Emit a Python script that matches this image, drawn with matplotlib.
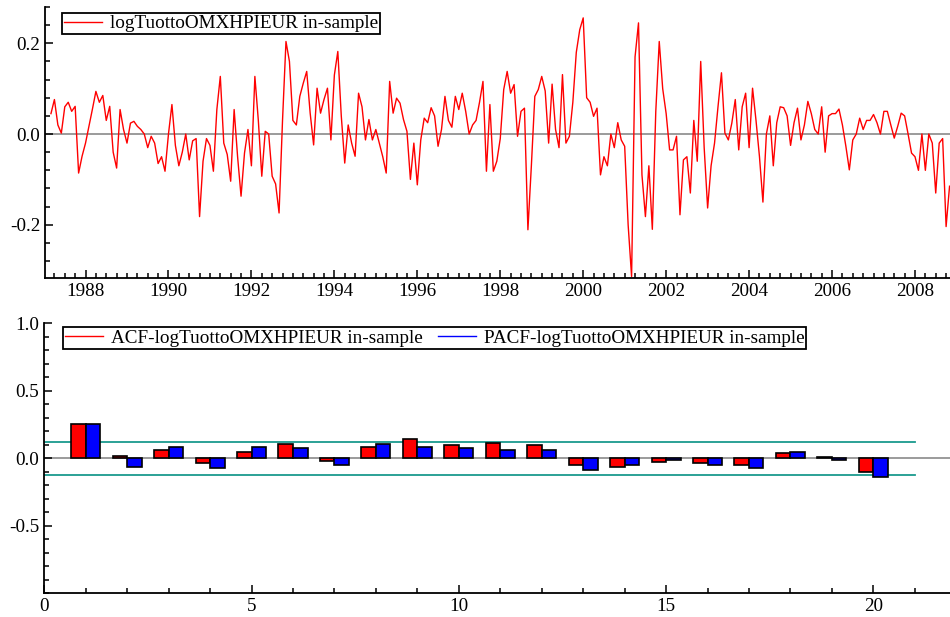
import numpy as np
import matplotlib
matplotlib.use("Agg")
import matplotlib.pyplot as plt
from matplotlib.lines import Line2D
from matplotlib.ticker import MultipleLocator

plt.rcParams['font.family'] = ['Liberation Serif', 'DejaVu Serif']

# monthly log returns, first observation March 1987
start_year, start_month = 1987, 3
returns = [
    0.045, 0.076, 0.02, 0.002, 0.06, 0.07, 0.05, 0.061, -0.086, -0.049,
    -0.02, 0.017, 0.055, 0.094, 0.07, 0.085, 0.03, 0.061, -0.04, -0.075,
    0.054, 0.01, -0.02, 0.024, 0.028, 0.017, 0.01, 0.0, -0.03, -0.005,
    -0.02, -0.065, -0.05, -0.082, 0.0, 0.065, -0.025, -0.07, -0.04, 0.0,
    -0.057, -0.015, -0.01, -0.182, -0.06, -0.01, -0.025, -0.082, 0.054, 0.127,
    -0.02, -0.045, -0.104, 0.054, -0.05, -0.137, -0.042, 0.01, -0.07, 0.127,
    0.03, -0.093, 0.006, 0.0, -0.093, -0.11, -0.174, 0.03, 0.204, 0.16,
    0.03, 0.02, 0.083, 0.112, 0.138, 0.046, -0.024, 0.101, 0.046, 0.076,
    0.101, -0.013, 0.13, 0.182, 0.04, -0.064, 0.02, -0.02, -0.049, 0.09,
    0.06, -0.013, 0.032, -0.013, 0.01, -0.02, -0.05, -0.086, 0.116, 0.046,
    0.079, 0.068, 0.032, 0.006, -0.1, -0.02, -0.112, -0.013, 0.035, 0.025,
    0.058, 0.04, -0.027, 0.01, 0.083, 0.03, 0.015, 0.083, 0.054, 0.09,
    0.05, 0.0, 0.02, 0.03, 0.07, 0.116, -0.082, 0.065, -0.082, -0.06,
    -0.01, 0.098, 0.138, 0.09, 0.109, -0.005, 0.05, 0.057, -0.211, -0.07,
    0.083, 0.098, 0.127, 0.095, -0.02, 0.11, 0.01, -0.03, 0.131, -0.02,
    -0.005, 0.07, 0.18, 0.23, 0.256, 0.08, 0.07, 0.039, 0.057, -0.09,
    -0.05, -0.07, 0.0, -0.03, 0.025, -0.013, -0.027, -0.2, -0.314, 0.17,
    0.245, -0.09, -0.182, -0.07, -0.21, 0.05, 0.204, 0.1, 0.045, -0.035,
    -0.035, -0.005, -0.178, -0.057, -0.05, -0.13, 0.03, -0.06, 0.16, -0.03,
    -0.163, -0.07, -0.02, 0.06, 0.135, 0.002, -0.013, 0.024, 0.076, -0.035,
    0.06, 0.09, -0.03, 0.101, 0.03, -0.05, -0.15, 0.0, 0.04, -0.07,
    0.025, 0.06, 0.058, 0.04, -0.025, 0.025, 0.057, -0.013, 0.02, 0.072,
    0.045, 0.01, 0.0, 0.06, -0.04, 0.04, 0.045, 0.045, 0.055, 0.02,
    -0.027, -0.079, -0.013, 0.0, 0.035, 0.01, 0.03, 0.03, 0.043, 0.025,
    0.0, 0.05, 0.05, 0.02, -0.009, 0.017, 0.046, 0.04, 0.0, -0.042,
    -0.05, -0.08, 0.0, -0.08, 0.0, -0.02, -0.13, -0.02, -0.01, -0.204,
    -0.115,
]

lags = [1, 2, 3, 4, 5, 6, 7, 8, 9, 10, 11, 12, 13, 14, 15, 16, 17, 18, 19, 20]
acf = [0.255, 0.015, 0.058, -0.036, 0.046, 0.109, -0.017, 0.085, 0.146, 0.097,
       0.112, 0.1, -0.049, -0.061, -0.024, -0.036, -0.049, 0.036, 0.012, -0.1]
pacf = [0.255, -0.063, 0.085, -0.075, 0.085, 0.073, -0.049, 0.109, 0.085, 0.075,
        0.061, 0.061, -0.087, -0.049, -0.012, -0.049, -0.075, 0.049, -0.012, -0.138]
conf_band = 0.122

series_label = 'logTuottoOMXHPIEUR in-sample'
acf_label = 'ACF-logTuottoOMXHPIEUR in-sample'
pacf_label = 'PACF-logTuottoOMXHPIEUR in-sample'

FS = 13.8

# decimal year of each observation
t = np.array([start_year + (start_month - 1 + i) / 12 for i in range(len(returns))])


def style_axes(ax):
    for s in ['top', 'right']:
        ax.spines[s].set_visible(False)
    for s in ['left', 'bottom']:
        ax.spines[s].set_linewidth(1.3)
    ax.tick_params(which='both', direction='in', labelsize=FS, width=1.1)
    ax.tick_params(which='major', length=6)
    ax.tick_params(which='minor', length=3.5)


fig = plt.figure(figsize=(9.5, 6.17), dpi=100)

# top panel: the series
ax1 = fig.add_axes([45/950, 1 - 278.3/617, 1 - 45/950, (278.3 - 7)/617])
ax1.axhline(0, color='#808080', lw=1.1, zorder=1)
ax1.plot(t, returns, color='red', lw=1.0, zorder=2)
ax1.set_xlim(1987.023, 2008.844)
ax1.set_ylim(-0.318, 0.28)
ax1.set_xticks(np.arange(1988, 2009, 2))
ax1.xaxis.set_minor_locator(MultipleLocator(0.25))
ax1.set_yticks([-0.2, 0.0, 0.2])
ax1.set_yticklabels(['-0.2', '0.0', '0.2'])
ax1.yaxis.set_minor_locator(MultipleLocator(0.04))
style_axes(ax1)
leg1 = ax1.legend([Line2D([], [], color='red', lw=1.0)], [series_label],
                  loc='upper left', bbox_to_anchor=(62/950, 1 - 13/617),
                  bbox_transform=fig.transFigure, fontsize=FS, fancybox=False,
                  framealpha=1, edgecolor='black', borderpad=0.1,
                  handlelength=2.0, handletextpad=0.4, borderaxespad=0)
leg1.get_frame().set_linewidth(1.3)

# bottom panel: ACF / PACF
ax2 = fig.add_axes([44.3/950, 1 - 593.3/617, 1 - 44.3/950, (593.3 - 323.3)/617])
w = 0.35
lag_arr = np.array(lags)
ax2.axhline(0, color='#808080', lw=1.1, zorder=1)
ax2.bar(lag_arr - w/2, acf, width=w, color='red', edgecolor='black', lw=1.2, zorder=3)
ax2.bar(lag_arr + w/2, pacf, width=w, color='blue', edgecolor='black', lw=1.2, zorder=3)
ax2.plot([0, 21], [conf_band, conf_band], color='#1a9a8e', lw=1.3, zorder=2)
ax2.plot([0, 21], [-conf_band, -conf_band], color='#1a9a8e', lw=1.3, zorder=2)
ax2.set_xlim(0, 21.85)
ax2.set_ylim(-1, 1)
ax2.set_xticks([0, 5, 10, 15, 20])
ax2.xaxis.set_minor_locator(MultipleLocator(1))
ax2.set_yticks([-0.5, 0.0, 0.5, 1.0])
ax2.set_yticklabels(['-0.5', '0.0', '0.5', '1.0'])
ax2.yaxis.set_minor_locator(MultipleLocator(0.1))
style_axes(ax2)
leg2 = ax2.legend([Line2D([], [], color='red', lw=1.0), Line2D([], [], color='blue', lw=1.0)],
                  [acf_label, pacf_label], ncol=2,
                  loc='upper left', bbox_to_anchor=(62.7/950, 1 - 327.3/617),
                  bbox_transform=fig.transFigure, fontsize=FS, fancybox=False,
                  framealpha=1, edgecolor='black', borderpad=0.1,
                  handlelength=2.0, handletextpad=0.4, columnspacing=0.8,
                  borderaxespad=0)
leg2.get_frame().set_linewidth(1.3)

fig.savefig('out.png', dpi=100)
